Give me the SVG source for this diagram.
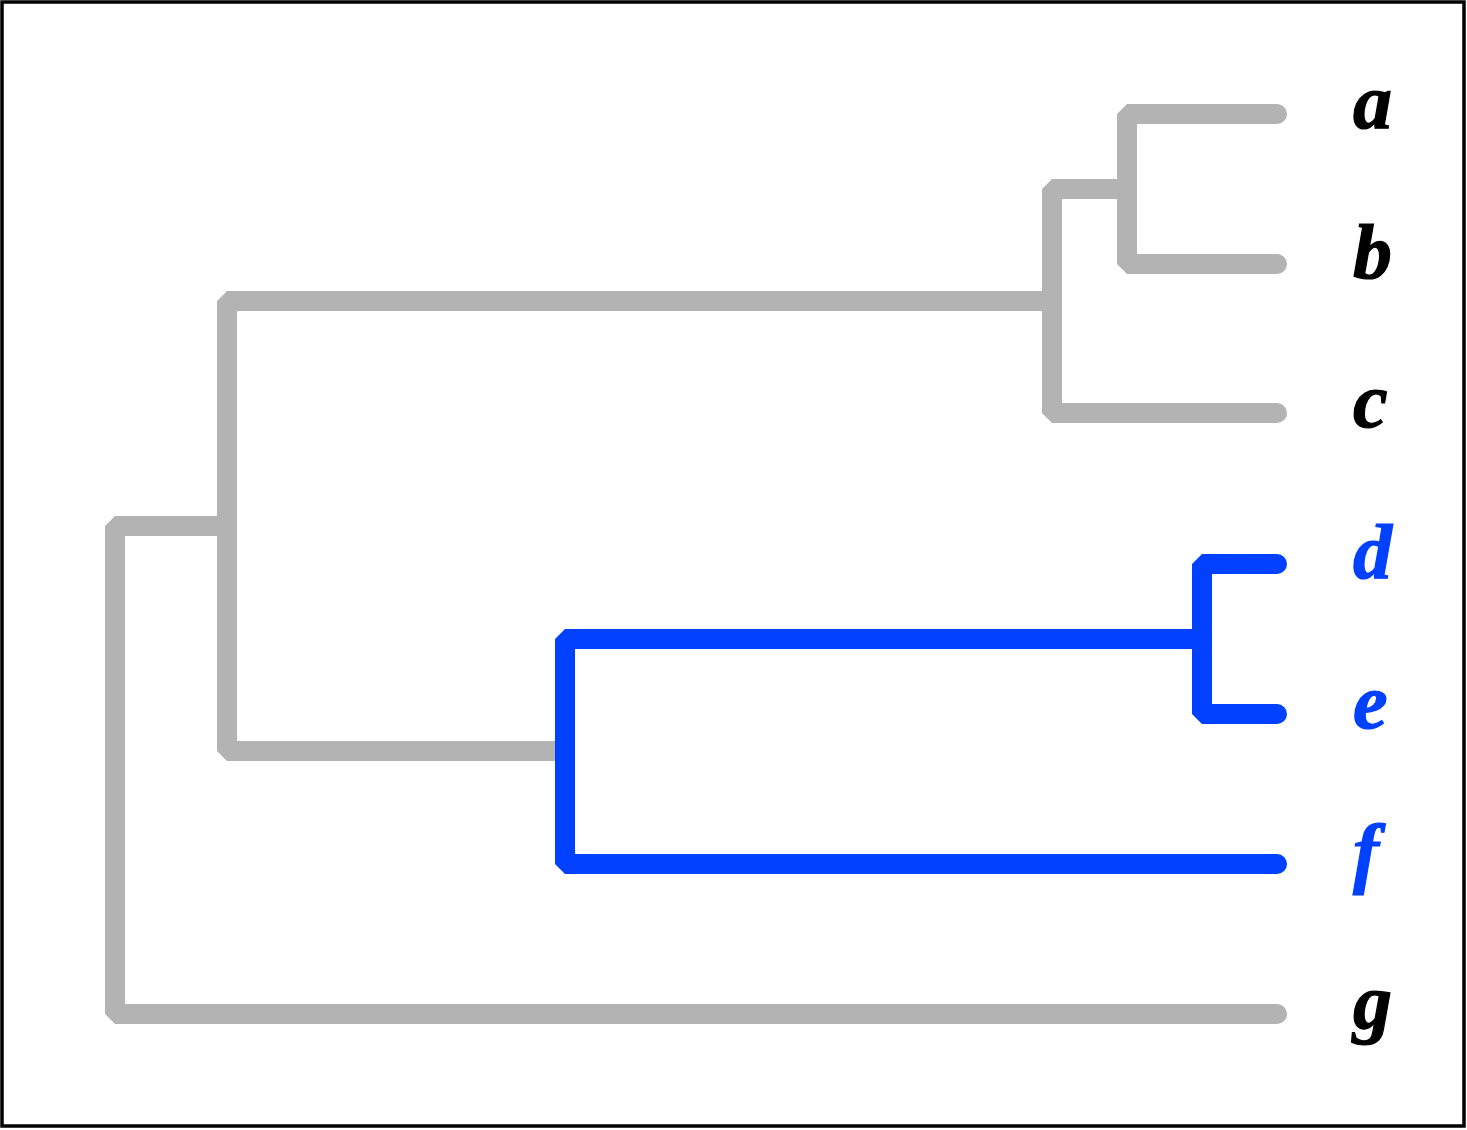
<svg xmlns="http://www.w3.org/2000/svg" width="1467" height="1130" viewBox="0 0 1467 1130">
<style>
.g{fill:none;stroke:#b3b3b3;stroke-width:20;stroke-linejoin:bevel;stroke-linecap:butt}
.b{fill:none;stroke:#0040ff;stroke-width:20;stroke-linejoin:bevel;stroke-linecap:butt}
.lf{fill:none;stroke-width:20;stroke-linecap:round}
.lb{font-family:"Liberation Serif","Times New Roman",serif;font-weight:bold;font-style:italic;font-size:78px;stroke-width:1.2}
</style>
<rect x="2" y="2" width="1462" height="1124" fill="#fff" stroke="#000" stroke-width="3.5"/>
<g id="connectors">
  <path class="g" d="M1277,114 H1127 V264 H1277"/>
  <path class="g" d="M1117,189 H1052 V413 H1277"/>
  <path class="g" d="M1042,301 H227 V751 H555"/>
  <path class="g" d="M217,526 H115 V1014 H1277"/>
  <path class="b" d="M1277,564 H1202 V714 H1277"/>
  <path class="b" d="M1192,639 H565 V864 H1277"/>
  <g class="lf" stroke="#b3b3b3">
    <path d="M1270,114 H1277"/><path d="M1270,264 H1277"/><path d="M1270,413 H1277"/><path d="M1270,1014 H1277"/>
  </g>
  <g class="lf" stroke="#0040ff">
    <path d="M1270,564 H1277"/><path d="M1270,714 H1277"/><path d="M1270,864 H1277"/>
  </g>
</g>
<g id="leaf-a"><text class="lb" x="1353" y="128" fill="#000" stroke="#000">a</text></g>
<g id="leaf-b"><text class="lb" x="1353" y="278" fill="#000" stroke="#000">b</text></g>
<g id="leaf-c"><text class="lb" x="1353" y="427" fill="#000" stroke="#000">c</text></g>
<g id="leaf-d"><text class="lb" x="1353" y="578" fill="#0040ff" stroke="#0040ff">d</text></g>
<g id="leaf-e"><text class="lb" x="1353" y="728" fill="#0040ff" stroke="#0040ff">e</text></g>
<g id="leaf-f"><text class="lb" x="1353" y="878" fill="#0040ff" stroke="#0040ff">f</text></g>
<g id="leaf-g"><text class="lb" x="1353" y="1028" fill="#000" stroke="#000">g</text></g>
</svg>
